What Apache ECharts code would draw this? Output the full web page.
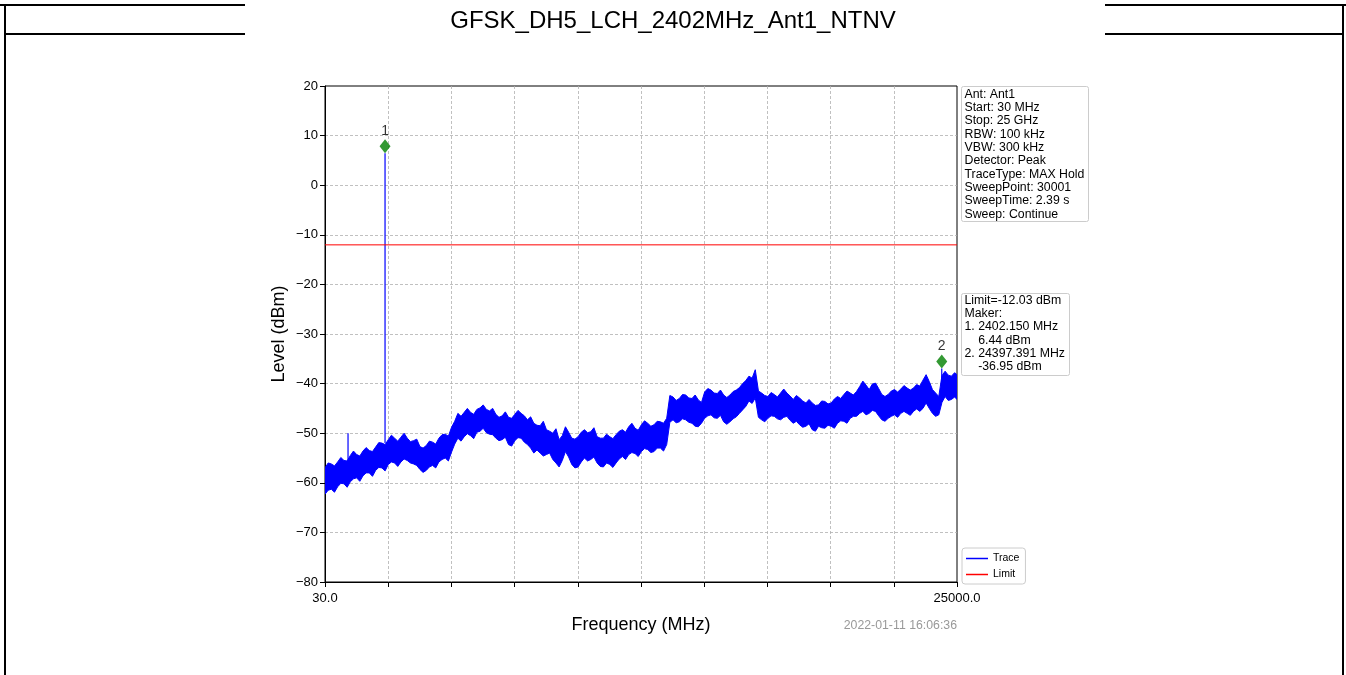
<!DOCTYPE html>
<html>
<head>
<meta charset="utf-8">
<title>GFSK_DH5_LCH_2402MHz_Ant1_NTNV</title>
<script src="https://cdn.jsdelivr.net/npm/echarts@6/dist/echarts.min.js"></script>
<style>
  html, body { margin: 0; padding: 0; background: #fff; }
  #chart { width: 1346px; height: 675px; }
</style>
</head>
<body>
<div id="chart"></div>
<script>
// Sweep settings (MHz)
const startMHz = 30;
const stopMHz = 25000;
const stepMHz = 125;

// Max-hold trace envelope, upper and lower edge per 125 MHz bin (dBm)
const traceHigh = [
  -57.0, -56.0, -56.2, -56.6, -55.8, -54.9, -55.5, -55.6, -54.5, -53.6,
  -54.3, -54.6, -53.6, -52.9, -53.5, -53.7, -52.8, -51.9, -52.0, -52.3,
  -51.3, -50.4, -51.0, -51.6, -50.8, -50.0, -51.0, -51.7, -51.5, -51.2,
  -52.7, -53.0, -52.5, -51.6, -51.8, -52.2, -51.0, -50.3, -50.2, -50.6,
  -48.8, -47.6, -46.0, -46.6, -45.8, -45.0, -45.8, -46.2, -45.2, -44.9,
  -44.3, -45.2, -45.5, -45.0, -46.2, -46.8, -46.5, -45.7, -46.8, -47.0,
  -46.2, -45.4, -46.0, -46.5, -47.3, -46.7, -48.0, -48.4, -48.5, -47.6,
  -49.3, -49.6, -50.0, -49.1, -51.3, -50.5, -48.7, -49.8, -51.0, -51.2,
  -50.7, -49.8, -49.3, -49.9, -49.7, -48.9, -50.7, -51.0, -51.0, -50.2,
  -50.7, -51.1, -50.3, -49.6, -49.3, -49.8, -48.7, -48.0, -49.0, -49.4,
  -48.3, -47.5, -48.0, -48.6, -48.3, -47.6, -47.7, -48.0, -47.0, -42.4,
  -42.7, -43.4, -43.0, -42.2, -42.3, -42.9, -43.0, -42.3, -43.3, -43.8,
  -41.7, -41.0, -41.3, -41.9, -42.0, -41.3, -42.3, -42.8, -42.3, -41.6,
  -41.3, -40.8, -40.0, -39.4, -38.5, -38.9, -37.2, -41.5, -41.9, -42.4,
  -42.6, -41.8, -42.2, -42.7, -41.9, -41.1, -41.9, -42.5, -43.2, -42.4,
  -42.9, -43.5, -43.9, -43.2, -43.9, -44.4, -44.3, -43.5, -43.6, -44.1,
  -43.9, -43.1, -42.6, -43.0, -42.2, -41.5, -41.9, -42.3, -41.6, -40.6,
  -39.5, -40.3, -41.2, -40.1, -39.9, -41.0, -42.2, -42.6, -42.2, -41.5,
  -41.2, -41.7, -41.1, -40.4, -40.9, -41.3, -40.9, -40.2, -40.5, -39.3,
  -38.2, -39.6, -41.2, -41.9, -42.6, -38.4, -37.5, -38.3, -38.5, -37.8,
  -38.2
];
const traceLow = [
  -62.3, -61.5, -61.3, -61.9, -60.8, -60.1, -60.2, -60.9, -59.8, -59.2,
  -59.0, -59.7, -58.6, -58.0, -58.0, -58.7, -57.5, -56.9, -57.0, -57.6,
  -56.3, -55.8, -56.0, -56.7, -55.8, -55.2, -55.5, -56.0, -56.2, -56.5,
  -57.3, -57.9, -57.5, -56.8, -56.5, -57.0, -55.8, -55.3, -55.0, -55.6,
  -53.8, -52.2, -51.0, -51.6, -50.7, -50.1, -50.5, -51.1, -49.8, -49.6,
  -49.0, -49.9, -50.2, -50.3, -51.0, -51.5, -51.3, -50.8, -52.3, -52.6,
  -51.5, -50.9, -51.0, -51.8, -52.3, -53.0, -54.0, -53.4, -54.0, -54.6,
  -54.3, -54.0, -55.3, -56.0, -56.8, -55.5, -53.7, -54.8, -56.3, -57.0,
  -56.8, -55.8, -55.0, -55.6, -55.3, -54.8, -56.0, -56.7, -56.8, -56.0,
  -56.3, -56.9, -56.0, -55.2, -54.7, -55.3, -54.3, -53.9, -54.1, -54.7,
  -53.7, -53.1, -53.3, -53.9, -53.7, -53.0, -53.0, -53.6, -52.3, -47.8,
  -47.3, -47.9, -47.7, -47.1, -47.3, -47.8, -48.0, -48.6, -48.7, -48.0,
  -47.0, -46.5, -46.3, -46.9, -47.0, -46.4, -47.7, -48.2, -47.7, -47.1,
  -46.7, -46.0, -45.3, -44.6, -43.5, -44.0, -42.9, -46.8, -47.3, -47.7,
  -47.0, -46.5, -46.6, -47.1, -47.3, -46.8, -46.6, -47.4, -48.0, -47.6,
  -48.3, -48.8, -48.6, -48.1, -49.3, -49.6, -48.6, -48.9, -49.0, -48.4,
  -48.6, -49.0, -48.0, -47.5, -47.6, -48.0, -47.0, -46.6, -46.6, -46.0,
  -45.6, -46.3, -46.0, -45.4, -45.6, -46.5, -47.3, -47.6, -47.0, -46.6,
  -46.3, -46.8, -46.0, -45.6, -46.0, -46.4, -45.6, -45.1, -45.6, -45.0,
  -43.9, -45.0, -46.0, -46.6, -46.3, -43.8, -42.6, -43.4, -43.2, -42.7,
  -43.2
];

// Narrow spurs rising above the noise floor
const spurFreqs = [940, 2402.15, 24397.391];
const spurTops = [-50.0, 6.44, -36.95];
const spurBases = [-56.0, -52.0, -42.0];

// Limit and markers
const limitLevel = -12.03;
const markerNames = ['1', '2'];
const markerFreqs = [2402.150, 24397.391];
const markerLevels = [6.44, -36.95];

// Axis ticks
const yMin = -80, yMax = 20, yStep = 10;
const xTickLabels = ['30.0', '25000.0'];

const infoLines = [
  'Ant: Ant1', 'Start: 30 MHz', 'Stop: 25 GHz', 'RBW: 100 kHz', 'VBW: 300 kHz',
  'Detector: Peak', 'TraceType: MAX Hold', 'SweepPoint: 30001',
  'SweepTime: 2.39 s', 'Sweep: Continue'
];
const limitLines = [
  'Limit=-12.03 dBm', 'Maker:',
  '1. 2402.150 MHz', '    6.44 dBm',
  '2. 24397.391 MHz', '    -36.95 dBm'
];
const timestamp = '2022-01-11 16:06:36';

const FONT = '"Liberation Sans", Arial, sans-serif';
const sampleFreqs = traceHigh.map((_, i) => Math.min(startMHz + i * stepMHz, stopMHz));
const span = stopMHz - startMHz;

const chart = echarts.init(document.getElementById('chart'), null, { renderer: 'canvas' });

const gridDash = { color: '#b0b0b0', width: 0.8, type: [3, 2] };

const option = {
  animation: false,
  backgroundColor: '#fff',
  textStyle: { fontFamily: FONT },
  title: {
    text: 'GFSK_DH5_LCH_2402MHz_Ant1_NTNV',
    left: 'center', top: 4,
    textStyle: { fontFamily: FONT, fontSize: 24, fontWeight: 'normal', color: '#000' }
  },
  grid: {
    left: 325, top: 86, right: 389, bottom: 93,
    show: true, borderColor: '#000', borderWidth: 1, backgroundColor: 'transparent'
  },
  legend: {
    orient: 'vertical', left: 962, top: 548,
    itemWidth: 22, itemHeight: 1.5, itemGap: 5,
    padding: [5, 6, 4, 4],
    backgroundColor: '#fff', borderColor: '#cccccc', borderWidth: 1, borderRadius: 3,
    textStyle: { fontFamily: FONT, fontSize: 10.5, color: '#000' },
    data: [{ name: 'Trace', icon: 'rect' }, { name: 'Limit', icon: 'rect' }]
  },
  xAxis: [
    {
      type: 'value', min: startMHz, max: stopMHz,
      axisLine: { show: true, onZero: false, lineStyle: { color: '#000', width: 1 } },
      axisTick: { show: false }, axisLabel: { show: false }, splitLine: { show: false },
      name: 'Frequency (MHz)', nameLocation: 'middle', nameGap: 34,
      nameTextStyle: { fontFamily: FONT, fontSize: 18, color: '#000' }
    },
    {
      // division grid counted from the start frequency
      type: 'value', min: 0, max: span, interval: span / 10, position: 'bottom',
      axisLine: { show: false, onZero: false },
      axisTick: { show: true, length: 5, lineStyle: { color: '#000' } },
      axisLabel: {
        show: true, margin: 10, fontFamily: FONT, fontSize: 13, color: '#000',
        showMinLabel: true, showMaxLabel: true,
        formatter: v => (v === 0 ? xTickLabels[0] : (Math.abs(v - span) < 1e-6 ? xTickLabels[1] : ''))
      },
      splitLine: { show: true, showMinLine: false, showMaxLine: false, lineStyle: gridDash }
    }
  ],
  yAxis: {
    type: 'value', min: yMin, max: yMax, interval: yStep,
    axisLine: { show: true, onZero: false, lineStyle: { color: '#000', width: 1 } },
    axisTick: { show: true, length: 5, lineStyle: { color: '#000' } },
    axisLabel: {
      fontFamily: FONT, fontSize: 13, color: '#000', margin: 7,
      formatter: v => String(v).replace('-', '\u2212')
    },
    splitLine: { show: true, showMinLine: false, showMaxLine: false, lineStyle: gridDash },
    name: 'Level (dBm)', nameLocation: 'middle', nameGap: 37,
    nameTextStyle: { fontFamily: FONT, fontSize: 18, color: '#000' }
  },
  series: [
    {
      name: 'Trace', type: 'custom', xAxisIndex: 0, yAxisIndex: 0,
      itemStyle: { color: '#0000ff' },
      clip: true, z: 3,
      data: [[startMHz, traceHigh[0]]],
      encode: { x: 0, y: 1 },
      renderItem: (params, api) => {
        const pts = [];
        for (let i = 0; i < sampleFreqs.length; i++) pts.push(api.coord([sampleFreqs[i], traceHigh[i]]));
        for (let i = sampleFreqs.length - 1; i >= 0; i--) pts.push(api.coord([sampleFreqs[i], traceLow[i]]));
        return {
          type: 'polygon', shape: { points: pts },
          style: { fill: '#0000ff', stroke: '#0000ff', lineWidth: 1, lineJoin: 'miter', miterLimit: 4 }
        };
      }
    },
    {
      name: 'Spurs', type: 'custom', xAxisIndex: 0, yAxisIndex: 0,
      clip: true, z: 3,
      data: spurFreqs.map((f, i) => [f, spurTops[i], spurBases[i]]),
      encode: { x: 0, y: [1, 2] },
      renderItem: (params, api) => {
        const top = api.coord([api.value(0), api.value(1)]);
        const base = api.coord([api.value(0), api.value(2)]);
        return {
          type: 'line',
          shape: { x1: top[0], y1: top[1], x2: base[0], y2: base[1] },
          style: { stroke: '#0000ff', lineWidth: 1.2 }
        };
      }
    },
    {
      name: 'Limit', type: 'line', xAxisIndex: 0, yAxisIndex: 0,
      data: [[startMHz, limitLevel], [stopMHz, limitLevel]],
      showSymbol: false, symbol: 'none',
      lineStyle: { color: '#ff0000', width: 1 }, itemStyle: { color: '#ff0000' },
      z: 4
    },
    {
      name: 'Markers', type: 'scatter', xAxisIndex: 0, yAxisIndex: 0,
      data: markerFreqs.map((f, i) => ({ name: markerNames[i], value: [f, markerLevels[i]] })),
      symbol: 'diamond', symbolSize: [11, 14], symbolOffset: [0, -7],
      itemStyle: { color: '#008000' },
      label: {
        show: true, position: 'top', distance: 1, formatter: '{b}',
        fontFamily: FONT, fontSize: 14, color: '#000'
      },
      z: 5
    }
  ],
  graphic: [
    // table frame around the chart
    { type: 'line', shape: { x1: 0, y1: 5, x2: 245, y2: 5 }, style: { stroke: '#000', lineWidth: 2 } },
    { type: 'line', shape: { x1: 1105, y1: 5, x2: 1346, y2: 5 }, style: { stroke: '#000', lineWidth: 2 } },
    { type: 'line', shape: { x1: 5, y1: 34, x2: 245, y2: 34 }, style: { stroke: '#000', lineWidth: 2 } },
    { type: 'line', shape: { x1: 1105, y1: 34, x2: 1343, y2: 34 }, style: { stroke: '#000', lineWidth: 2 } },
    { type: 'line', shape: { x1: 5, y1: 4, x2: 5, y2: 675 }, style: { stroke: '#000', lineWidth: 2 } },
    { type: 'line', shape: { x1: 1343, y1: 4, x2: 1343, y2: 675 }, style: { stroke: '#000', lineWidth: 2 } },
    // sweep settings box
    {
      type: 'group', left: 961, top: 86,
      children: [
        { type: 'rect', shape: { x: 0, y: 0, width: 127, height: 135, r: 2 },
          style: { fill: '#fff', stroke: '#cccccc', lineWidth: 1 } },
        { type: 'text', x: 3, y: 1,
          style: { text: infoLines.join('\n'), font: '12.3px ' + FONT, lineHeight: 13.35, fill: '#000' } }
      ]
    },
    // limit / marker box
    {
      type: 'group', left: 961, top: 293,
      children: [
        { type: 'rect', shape: { x: 0, y: 0, width: 108, height: 82, r: 2 },
          style: { fill: '#fff', stroke: '#cccccc', lineWidth: 1 } },
        { type: 'text', x: 3, y: 0,
          style: { text: limitLines.join('\n'), font: '12.3px ' + FONT, lineHeight: 13.35, fill: '#000' } }
      ]
    },
    {
      type: 'text', right: 1346 - 957, top: 620,
      style: { text: timestamp, font: '12.3px ' + FONT, fill: '#999999' }
    }
  ]
};

chart.setOption(option);
</script>
</body>
</html>
